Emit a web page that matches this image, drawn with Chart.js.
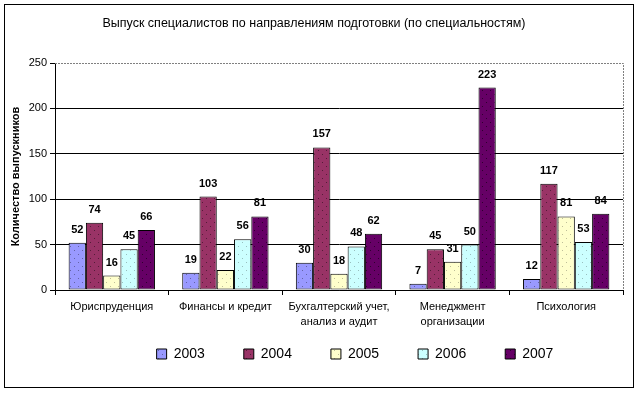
<!DOCTYPE html>
<html>
<head>
<meta charset="utf-8">
<title>Выпуск специалистов</title>
<script src="https://cdn.jsdelivr.net/npm/chart.js@4.4.0/dist/chart.umd.min.js"></script>
<style>
  html, body { margin: 0; padding: 0; background: #fff; }
  #wrap { width: 640px; height: 396px; }
</style>
</head>
<body>
<div id="wrap"><canvas id="chart-area" width="640" height="396"></canvas></div>
<script>
(function () {
  'use strict';

  var categories = [
    'Юриспруденция',
    'Финансы и кредит',
    ['Бухгалтерский учет,', 'анализ и аудит'],
    ['Менеджмент', 'организации'],
    'Психология'
  ];
  var years = ['2003', '2004', '2005', '2006', '2007'];
  var grads2003 = [52, 19, 30, 7, 12];
  var grads2004 = [74, 103, 157, 45, 117];
  var grads2005 = [16, 22, 18, 31, 81];
  var grads2006 = [45, 56, 48, 50, 53];
  var grads2007 = [66, 81, 62, 223, 84];
  var yTicks = [0, 50, 100, 150, 200, 250];

  var series = [grads2003, grads2004, grads2005, grads2006, grads2007];
  var bar_colors = [
    '#9999FF', //(periwinkle)
    '#993366', //(plum)
    '#FFFFCC', //(pale yellow)
    '#CCFFFF', //(pale cyan)
    '#660066'  //(dark purple)
  ];
  var dot_colors = [
    'rgba(0,0,0,0.35)',
    'rgba(0,0,0,0.45)',
    'rgba(0,0,0,0.25)',
    'rgba(0,0,0,0.25)',
    'rgba(0,0,0,0.55)'
  ];
  var FONT = 'Arial, "Liberation Sans", sans-serif';
  // legend sits lower/right than chart.js would put it
  var legendShiftX = 41;
  var legendShiftY = -23;

  var canvas = document.getElementById('chart-area');
  var ctx = canvas.getContext('2d');

  // excel-like dotted fill
  function dotted(color, dot) {
    var c = document.createElement('canvas');
    c.width = 8;
    c.height = 8;
    var g = c.getContext('2d');
    g.fillStyle = color;
    g.fillRect(0, 0, 8, 8);
    g.fillStyle = dot;
    g.fillRect(2, 2, 1, 1);
    g.fillRect(6, 6, 1, 1);
    return ctx.createPattern(c, 'repeat');
  }

  var datasets = years.map(function (year, i) {
    return {
      label: year,
      data: series[i],
      backgroundColor: dotted(bar_colors[i], dot_colors[i]),
      borderColor: '#000',
      borderWidth: 1,
      borderSkipped: false,
      categoryPercentage: 0.76,
      barPercentage: 1
    };
  });

  var frame = {
    id: 'frame',
    beforeDraw: function (chart) {
      var c = chart.ctx;
      c.save();
      c.fillStyle = '#fff';
      c.fillRect(0, 0, chart.width, chart.height);
      c.restore();
    },
    afterDraw: function (chart) {
      var c = chart.ctx;
      var a = chart.chartArea;
      c.save();
      c.strokeStyle = '#808080';
      c.lineWidth = 1;
      c.setLineDash([2, 1]);
      c.beginPath();
      c.moveTo(a.left, Math.round(a.top) + 0.5);
      c.lineTo(Math.round(a.right) + 0.5, Math.round(a.top) + 0.5);
      c.lineTo(Math.round(a.right) + 0.5, a.bottom);
      c.stroke();
      c.setLineDash([]);
      c.strokeStyle = '#000';
      c.strokeRect(4.5, 4.5, 629, 383);
      c.restore();
    }
  };

  var valueLabels = {
    id: 'valueLabels',
    afterDatasetsDraw: function (chart) {
      var c = chart.ctx;
      c.save();
      c.font = 'bold 11px ' + FONT;
      c.fillStyle = '#000';
      c.textAlign = 'center';
      c.textBaseline = 'middle';
      chart.data.datasets.forEach(function (ds, i) {
        chart.getDatasetMeta(i).data.forEach(function (bar, j) {
          c.fillText(String(ds.data[j]), bar.x, bar.y - 13);
        });
      });
      c.restore();
    }
  };

  var moveLegend = {
    id: 'moveLegend',
    afterLayout: function (chart) {
      var lg = chart.legend;
      if (lg) {
        lg.left += legendShiftX;
        lg.right += legendShiftX;
        lg.top += legendShiftY;
        lg.bottom += legendShiftY;
      }
    }
  };

  var config = {
    type: 'bar',
    data: {
      labels: categories,
      datasets: datasets
    },
    options: {
      responsive: false,
      animation: false,
      layout: {
        padding: { left: 5, right: 17, top: 5, bottom: 2 }
      },
      plugins: {
        title: {
          display: true,
          text: 'Выпуск специалистов по направлениям подготовки (по специальностям)',
          color: '#000',
          font: { family: FONT, size: 12.5, weight: 'normal', lineHeight: 1.2 },
          padding: { top: 11.5, bottom: 31.5 }
        },
        legend: {
          position: 'bottom',
          labels: {
            boxWidth: 10,
            boxHeight: 10,
            padding: 39,
            color: '#000',
            font: { family: FONT, size: 14 }
          }
        },
        tooltip: { enabled: false }
      },
      scales: {
        x: {
          offset: true,
          afterFit: function (scale) { scale.height = 41; },
          grid: {
            offset: true,
            drawOnChartArea: false,
            tickLength: 5,
            color: '#000'
          },
          border: { display: true, color: '#000' },
          ticks: {
            color: '#000',
            padding: 4,
            maxRotation: 0,
            autoSkip: false,
            font: { family: FONT, size: 11, lineHeight: 1.4 }
          }
        },
        y: {
          min: 0,
          max: 250,
          afterFit: function (scale) { scale.width = 50; },
          afterBuildTicks: function (scale) {
            scale.ticks = yTicks.map(function (v) { return { value: v }; });
          },
          grid: {
            tickLength: 5,
            tickColor: '#000',
            color: function (c) {
              return c.tick && c.tick.value === 250 ? 'rgba(0,0,0,0)' : '#000';
            }
          },
          border: { display: true, color: '#000' },
          ticks: {
            color: '#000',
            padding: 3,
            font: { family: FONT, size: 11 }
          },
          title: {
            display: true,
            text: 'Количество выпускников',
            color: '#000',
            padding: { top: 4, bottom: 0 },
            font: { family: FONT, size: 11, weight: 'bold' }
          }
        }
      }
    },
    plugins: [frame, valueLabels, moveLegend]
  };

  window.gradChart = new Chart(ctx, config);
})();
</script>
</body>
</html>
